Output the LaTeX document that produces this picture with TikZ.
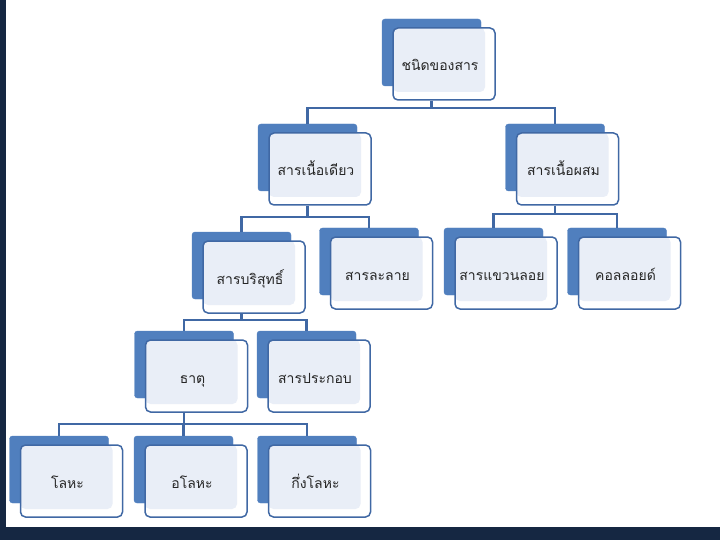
\documentclass[tikz,border=0pt]{standalone}
\usepackage{fontspec}
\newfontfamily\thaifont[Script=Thai]{Loma}
\usepackage{tikz}

\definecolor{frameblue}{RGB}{21,39,66}
\definecolor{boxblue}{RGB}{80,127,190}
\definecolor{lineblue}{RGB}{64,104,164}
\definecolor{innergray}{RGB}{233,238,247}

\tikzset{
  backbox/.style={draw=boxblue, fill=boxblue, rounded corners=3pt, minimum width=99pt, minimum height=67pt, inner sep=0pt},
  frontbox/.style={draw=lineblue, line width=1.5pt, fill=white, rounded corners=5pt, minimum width=102pt, minimum height=72pt, inner sep=0pt,
    font=\thaifont\fontsize{14}{16}\selectfont, text=black!85, text height=14pt, text depth=0pt,
    execute at begin node={\hspace*{-8pt}},
    path picture={\fill[innergray] (path picture bounding box.north west) rectangle ([shift={(-10pt,8pt)}]path picture bounding box.south east);}},
  link/.style={draw=lineblue, line width=2.2pt}
}

\begin{document}
\begin{tikzpicture}[x=1pt, y=-1pt]

\useasboundingbox (0,0) rectangle (720,540);

% AREAS %%%%%%%%%%%%%%%%%%%%%%%%%%%%%%%%%%%%%%%%%%%%%%%%%%%%%%%%%%%%%%%%%%

\fill[frameblue] (0,0) rectangle (6,540);
\fill[frameblue] (0,527) rectangle (720,540);

% NODES %%%%%%%%%%%%%%%%%%%%%%%%%%%%%%%%%%%%%%%%%%%%%%%%%%%%%%%%%%%%%%%%%%

\node[backbox] (kindB) at (431.5,52.5) {};
\node[backbox] (homoB) at (307.5,157.5) {};
\node[backbox] (heteroB) at (555,157.5) {};
\node[backbox] (pureB) at (241.5,265.5) {};
\node[backbox] (solnB) at (369,261.5) {};
\node[backbox] (suspB) at (493.5,261.5) {};
\node[backbox] (collB) at (617,261.5) {};
\node[backbox] (elemB) at (184,364.5) {};
\node[backbox] (compB) at (306.5,364.5) {};
\node[backbox] (metalB) at (59,469.5) {};
\node[backbox] (nonmetalB) at (183.5,469.5) {};
\node[backbox] (semiB) at (307,469.5) {};

\node[frontbox] (kind) at (444,64) {ชนิดของสาร};
\node[frontbox] (homo) at (320,169) {สารเนื้อเดียว};
\node[frontbox] (hetero) at (567.5,169) {สารเนื้อผสม};
\node[frontbox] (pure) at (254,277) {สารบริสุทธิ์};
\node[frontbox] (soln) at (381.5,273) {สารละลาย};
\node[frontbox] (susp) at (506,273) {สารแขวนลอย};
\node[frontbox] (coll) at (629.5,273) {คอลลอยด์};
\node[frontbox] (elem) at (196.5,376) {ธาตุ};
\node[frontbox] (comp) at (319,376) {สารประกอบ};
\node[frontbox] (metal) at (71.5,481) {โลหะ};
\node[frontbox] (nonmetal) at (196,481) {อโลหะ};
\node[frontbox] (semi) at (319.5,481) {กึ่งโลหะ};

% LINKS %%%%%%%%%%%%%%%%%%%%%%%%%%%%%%%%%%%%%%%%%%%%%%%%%%%%%%%%%%%%%%%%%%

\draw[link] (kindB.center |- kind.south) -- ++(0,7) -| (homoB.north);
\draw[link] (kindB.center |- kind.south) -- ++(0,7) -| (heteroB.north);

\draw[link] (homoB.center |- homo.south) -- ++(0,11) -| (pureB.north);
\draw[link] (homoB.center |- homo.south) -- ++(0,11) -| (solnB.north);

\draw[link] (heteroB.center |- hetero.south) -- ++(0,8) -| (suspB.north);
\draw[link] (heteroB.center |- hetero.south) -- ++(0,8) -| (collB.north);

\draw[link] (pureB.center |- pure.south) -- ++(0,6) -| (elemB.north);
\draw[link] (pureB.center |- pure.south) -- ++(0,6) -| (compB.north);

\draw[link] (elemB.center |- elem.south) -- ++(0,11) -| (metalB.north);
\draw[link] (elemB.center |- elem.south) -- ++(0,11) -| (nonmetalB.north);
\draw[link] (elemB.center |- elem.south) -- ++(0,11) -| (semiB.north);

\end{tikzpicture}
\end{document}
